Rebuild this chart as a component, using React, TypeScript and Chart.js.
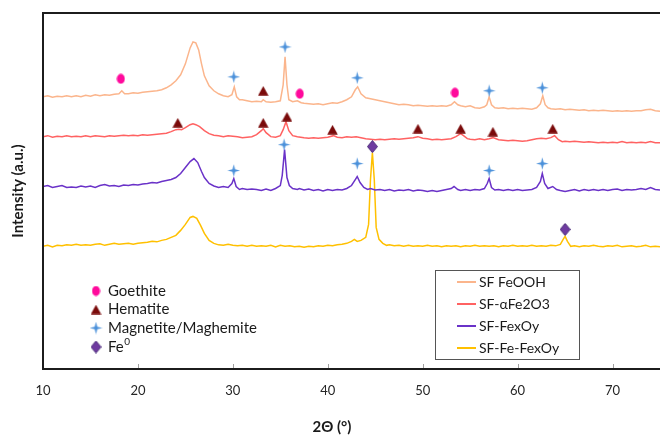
import React, { useEffect, useRef } from "react";
import { Chart, registerables } from "chart.js";
Chart.register(...registerables);

// ---------- data (2θ in degrees, intensity in a.u., stacked offsets as in the figure) ----------
const feoohTheta = [10,10.5,11,11.5,12,12.5,13,13.5,14,14.5,15,15.5,16,16.5,17,17.5,18,18.3,18.6,19,19.5,20,20.5,21,21.5,22,22.5,23,23.5,24,24.5,25,25.5,25.8,26.1,26.4,26.7,27,27.5,28,28.5,29,29.5,29.9,30.15,30.4,30.7,31,31.5,32,32.5,33,33.2,33.5,34,34.5,35,35.3,35.5,35.7,35.9,36.3,36.8,37.2,37.5,38,38.5,39,39.5,40,40.5,41,41.5,42,42.5,42.9,43.15,43.5,44,44.5,45,45.5,46,46.5,47,47.5,48,48.5,49,49.5,50,50.5,51,51.5,52,52.5,53,53.35,53.7,54,54.5,55,55.5,56,56.5,56.75,57,57.25,57.6,58,58.5,59,59.5,60,60.5,61,61.5,62,62.4,62.65,62.9,63.2,63.5,64,64.5,65,65.5,66,66.5,67,67.5,68,68.5,69,69.5,70,70.5,71,71.5,72,72.5,73,73.5,74,74.5,75];
const feoohI = [273,274,272.5,273.5,273,274,273,274,273,274.5,273.5,275,274,275,274.5,275.5,276,279,276,276,277,276.5,277.5,278,278.5,279,280,282,285,289,295,306,322,328,327,320,306,294,284,279,276,274,273,275,283,273,270,270,269,268,268.5,268,270,268,267.5,268,269,285,313,285,270,268,269,267,266.5,266,265.5,266,265,266,267,266.5,268,270,273,280,283,276,272,271,270,269,268,267,266,265,265.5,265,264,264.5,264,263.5,264,263.5,264,263.5,265,268,265,264,263,264,262,261.5,263,265,273,265,262,261.5,262,261,261.5,261,261.5,261,260.5,262,266,274,265,262,261,260.5,261,260,260.5,260,259.5,260,259,259.5,259,259.5,259,258.5,259,258.5,259,258.5,259,259,260,260.5,259,258.5];

const hematiteSampleTheta = [10,10.5,11,11.5,12,12.5,13,13.5,14,14.5,15,15.5,16,16.5,17,17.5,18,18.5,19,19.5,20,20.5,21,21.5,22,22.5,23,23.5,24,24.3,24.6,25,25.5,25.8,26.1,26.5,27,27.5,28,28.5,29,29.5,30,30.5,31,31.5,32,32.5,33,33.2,33.5,34,34.5,35,35.3,35.6,35.9,36.3,36.8,37.5,38,38.5,39,39.5,40,40.6,41,41.5,42,42.5,43,43.5,44,44.5,45,45.5,46,46.5,47,47.5,48,48.5,49,49.5,50,50.5,51,51.5,52,52.5,53,53.5,54,54.3,54.7,55,55.5,56,56.5,57,57.4,58,58.5,59,59.5,60,60.5,61,61.5,62,62.5,63,63.5,63.9,64.3,64.7,65,65.5,66,66.5,67,67.5,68,68.5,69,69.5,70,70.5,71,71.5,72,72.5,73,73.5,74,74.5,75];
const hematiteSampleI = [233,234,232.5,233.5,233,234,233,233.5,233,234,233,234,233.5,233,234,233.5,234,234.5,234,234.5,234,235,234.5,235,235.5,236,236.5,238,240,240.5,240,242,245,246,245,243,239,236,234.5,234,233,234,233.5,233,232,232.5,233,235,239,241,237,233,232.5,234,240,248,239,234,233,232,231.5,232,231.5,232,232.5,234,232.5,232,233,232.5,233,232,231,230.5,230,230.5,230,230.5,231,230.5,231,231.5,232,233,231.5,231,230,230.5,230,230.5,231,233,236,234,231,230.5,230,231,230,231,232,230,229.5,229,229.5,229,228.5,229,230,231,231.5,231,232,234,230,228,228.5,228,228.5,228,227.5,228,227.5,227,227.5,227,227.5,227,228,227,227.5,227,227.5,227,228,227,227];

const fexoyTheta = [10,10.5,11,11.5,12,12.5,13,13.5,14,14.5,15,15.5,16,16.5,17,17.5,18,18.5,19,19.5,20,20.5,21,21.5,22,22.5,23,23.5,24,24.5,25,25.5,25.9,26.3,26.7,27,27.5,28,28.5,29,29.5,29.9,30.1,30.35,30.7,31,31.5,32,32.5,33,33.5,34,34.5,35,35.2,35.45,35.7,35.95,36.3,36.8,37,37.5,38,38.5,39,39.5,40,40.5,41,41.5,42,42.5,42.9,43.1,43.4,43.8,44.2,44.5,45,45.5,46,46.5,47,47.5,48,48.5,49,49.5,50,50.5,51,51.5,52,52.5,53,53.3,53.7,54,54.5,55,55.5,56,56.5,56.8,57,57.25,57.6,58,58.5,59,59.5,60,60.5,61,61.5,62,62.4,62.6,62.85,63.2,63.7,64.1,64.5,65,65.5,66,66.5,67,67.5,68,68.5,69,69.5,70,70.5,71,71.5,72,72.5,73,73.5,74,74.5,75];
const fexoyI = [183,184,182,183,184,182,182.5,182,183.5,182.5,183.5,182,184,185,183.5,184,183,184.5,184,185,184.5,185.5,186,187,186.5,188,189,190,192,196,202,208,211,207,198,192,186,183.5,182,183,182,186,191,183,180,181,180,180.5,180,179,180.5,179,181,184,194,220,192,184,181,180,181,179.5,180.5,179,180,178.5,180,179,180,179.5,181,184,190,193,187,182,180,181,179.5,180,179,180,178.5,179.5,179,180,178.5,179.5,179,178,179,178,179,180,181,183,180,179,180,179,180,179.5,181,186,191,182,179.5,180,179,180,179,180,179,179.5,180,182,188,196,186,181,183,180,179,178,179,180,178.5,180,179,180,179,180,179,180,180.5,179,180,179.5,180,181,180,182,180,179.5];

const feFexoyTheta = [10,10.5,11,11.5,12,12.5,13,13.5,14,14.5,15,15.5,16,16.5,17,17.5,18,18.5,19,19.5,20,20.5,21,21.5,22,22.5,23,23.5,24,24.5,25,25.5,25.8,26.2,26.6,27,27.5,28,28.5,29,29.5,30,30.5,31,31.5,32,32.5,33,33.5,34,34.5,35,35.5,36,36.5,37,37.5,38,38.5,39,39.5,40,40.5,41,41.5,42,42.5,42.8,43.1,43.5,44,44.3,44.5,44.7,44.9,45.1,45.4,45.8,46.2,46.5,47,47.5,48,48.5,49,49.5,50,50.5,51,51.5,52,52.5,53,53.5,54,54.5,55,55.5,56,56.5,57,57.5,58,58.5,59,59.5,60,60.5,61,61.5,62,62.5,63,63.5,64,64.5,64.8,65,65.25,65.6,66,66.5,67,67.5,68,68.5,69,69.5,70,70.5,71,71.5,72,72.5,73,73.5,74,74.5,75];
const feFexoyI = [123,124,122.5,124,123.5,124.5,124,125,124,124.5,124,125,125.5,124,125,126,125,125.5,126,125,126,126.5,127,128,127.5,129,130,132,134,139,145,152,153,151,144,136,129,126,124.5,124,125,124,123.5,124,123,124,123,123.5,123,124,122.5,124,123,123.5,122.5,123,122,123,122.5,123.5,123,124,123.5,124.5,125,126,128,130,128,129,132,145,190,217,190,142,130,126,124,124.5,123.5,124,123,124,123,123.5,123,124,123,123.5,122.5,123.5,123,123.5,122.5,123.5,123,124,123,123.5,123,123.5,122.5,123.5,123,124,123,123.5,123,124,123,123.5,123,124,123.5,125,130,133,128,123,123.5,122.5,123.5,123,124,123,122.5,123.5,123,124,122.5,123,123.5,122.5,123,124,122.5,123,122.5];

const seriesLabels = ["SF FeOOH", "SF-\u03b1Fe2O3", "SF-FexOy", "SF-Fe-FexOy"];
const seriesColors = ["#FBB58C", "#FF6262", "#6A32C8", "#FFC000"];

const goethiteTheta = [18.2, 37.05, 53.4];
const goethiteI = [291, 276, 277];
const hematiteTheta = [24.2, 33.2, 33.2, 35.7, 40.5, 49.5, 54.0, 57.4, 63.7];
const hematiteI = [247, 279, 247, 253, 240, 241, 241, 238, 241];
const magnetiteTheta = [30.1, 35.5, 43.1, 57.0, 62.6, 30.1, 35.4, 43.1, 57.0, 62.6];
const magnetiteI = [293, 323, 292, 279, 282, 199, 225, 206, 199, 206];
const fe0Theta = [44.7, 65.0];
const fe0I = [223, 140];

const markerLabels = ["Goethite", "Hematite", "Magnetite/Maghemite", "Fe0"];
const xTicks = [10, 20, 30, 40, 50, 60, 70];

const FONT = "Lato, 'Open Sans', sans-serif";

function pts(xs: number[], ys: number[]) {
  return xs.map((x, i) => ({ x, y: ys[i] }));
}

function makeCanvas(w: number, h: number, draw: (g: CanvasRenderingContext2D) => void) {
  const c = document.createElement("canvas");
  c.width = w;
  c.height = h;
  const g = c.getContext("2d")!;
  draw(g);
  return c;
}

export default function App() {
  const ref = useRef<HTMLCanvasElement | null>(null);

  useEffect(() => {
    const oval = makeCanvas(9, 11, (g) => {
      g.fillStyle = "#FF0A9C";
      g.beginPath();
      g.ellipse(4.5, 5.5, 4, 5, 0, 0, Math.PI * 2);
      g.fill();
    });
    const tri = makeCanvas(11, 10, (g) => {
      g.fillStyle = "#7A0A0A";
      g.beginPath();
      g.moveTo(5.5, 0.3);
      g.lineTo(10.7, 9.7);
      g.lineTo(0.3, 9.7);
      g.closePath();
      g.fill();
    });
    const star = makeCanvas(13, 13, (g) => {
      g.translate(6.5, 6.5);
      g.fillStyle = "#4A90DA";
      const r = 6.3, s = 1.3;
      g.beginPath();
      g.moveTo(0, -r); g.lineTo(s, -s); g.lineTo(r, 0); g.lineTo(s, s);
      g.lineTo(0, r); g.lineTo(-s, s); g.lineTo(-r, 0); g.lineTo(-s, -s);
      g.closePath();
      g.fill();
    });
    const diamond = makeCanvas(11, 13, (g) => {
      g.fillStyle = "#6F3BA0";
      g.strokeStyle = "#4A2C78";
      g.lineWidth = 1;
      g.beginPath();
      g.moveTo(5.5, 0.5); g.lineTo(10.5, 6.5); g.lineTo(5.5, 12.5); g.lineTo(0.5, 6.5);
      g.closePath();
      g.fill();
      g.stroke();
    });
    const markerImgs = [oval, tri, star, diamond];

    const lineSets = [
      [feoohTheta, feoohI],
      [hematiteSampleTheta, hematiteSampleI],
      [fexoyTheta, fexoyI],
      [feFexoyTheta, feFexoyI],
    ].map(([xs, ys], i) => ({
      type: "line" as const,
      label: seriesLabels[i],
      data: pts(xs, ys),
      borderColor: seriesColors[i],
      backgroundColor: seriesColors[i],
      borderWidth: 1.5,
      pointRadius: 0,
      tension: 0,
      order: 2,
    }));
    const markerSets = [
      [goethiteTheta, goethiteI],
      [hematiteTheta, hematiteI],
      [magnetiteTheta, magnetiteI],
      [fe0Theta, fe0I],
    ].map(([xs, ys], i) => ({
      type: "line" as const,
      label: markerLabels[i],
      data: pts(xs, ys),
      showLine: false,
      pointStyle: markerImgs[i],
      pointRadius: 5,
      order: 0,
    }));

    const decor = {
      id: "decor",
      afterDraw(chart: any) {
        const ctx = chart.ctx as CanvasRenderingContext2D;
        const a = chart.chartArea;
        const xs = chart.scales.x;
        ctx.save();
        // frame
        ctx.strokeStyle = "#1c1c1c";
        ctx.lineWidth = 2;
        ctx.beginPath();
        ctx.moveTo(a.right, a.top);
        ctx.lineTo(a.left, a.top);
        ctx.lineTo(a.left, a.bottom);
        ctx.lineTo(a.right, a.bottom);
        ctx.stroke();
        // inner ticks
        ctx.strokeStyle = "#a0a0a0";
        ctx.lineWidth = 1;
        xTicks.forEach((v) => {
          if (v === xTicks[0]) return;
          const px = Math.round(xs.getPixelForValue(v)) + 0.5;
          ctx.beginPath();
          ctx.moveTo(px, a.bottom - 1);
          ctx.lineTo(px, a.bottom - 5);
          ctx.stroke();
        });
        // axis titles
        ctx.fillStyle = "#1a1a1a";
        ctx.font = "bold 15px " + FONT;
        ctx.textAlign = "center";
        ctx.textBaseline = "middle";
        ctx.fillText("2\u0398 (\u00b0)", 332, 427);
        ctx.save();
        ctx.translate(18, 191);
        ctx.rotate(-Math.PI / 2);
        ctx.fillText("Intensity (a.u.)", 0, 0);
        ctx.restore();

        // marker legend
        ctx.textAlign = "left";
        ctx.font = "15px " + FONT;
        const rowsM = [291, 309.5, 328, 347];
        markerLabels.forEach((lab, i) => {
          const img = markerImgs[i];
          ctx.drawImage(img, 96 - img.width / 2, rowsM[i] - img.height / 2);
          if (lab === "Fe0") {
            ctx.font = "15px " + FONT;
            ctx.fillText("Fe", 108, rowsM[i]);
            const w = ctx.measureText("Fe").width;
            ctx.font = "10px " + FONT;
            ctx.fillText("0", 108 + w + 0.5, rowsM[i] - 5);
            ctx.font = "15px " + FONT;
          } else {
            ctx.fillText(lab, 108, rowsM[i]);
          }
        });

        // series legend
        ctx.strokeStyle = "#555555";
        ctx.lineWidth = 1;
        ctx.strokeRect(435.5, 270.5, 144, 89);
        ctx.font = "14px " + FONT;
        const rowsS = [282, 304, 326, 348];
        seriesLabels.forEach((lab, i) => {
          ctx.strokeStyle = seriesColors[i];
          ctx.lineWidth = 2;
          ctx.beginPath();
          ctx.moveTo(457, rowsS[i]);
          ctx.lineTo(476, rowsS[i]);
          ctx.stroke();
          ctx.fillStyle = "#1a1a1a";
          ctx.fillText(lab, 479, rowsS[i]);
        });
        ctx.restore();
      },
    };

    const chart = new Chart(ref.current!, {
      type: "line",
      data: { datasets: [...markerSets, ...lineSets] as any },
      options: {
        animation: false,
        responsive: false,
        devicePixelRatio: 1,
        layout: { autoPadding: false, padding: { left: 43, top: 13, right: 0, bottom: 0 } },
        plugins: { legend: { display: false }, tooltip: { enabled: false } },
        scales: {
          x: {
            type: "linear",
            min: 10,
            max: 75,
            grid: { display: false, drawTicks: false },
            border: { display: false },
            ticks: {
              font: { family: FONT, size: 13 },
              color: "#262626",
              padding: 14,
              maxRotation: 0,
              autoSkip: false,
            },
            afterBuildTicks: (s: any) => {
              s.ticks = xTicks.map((v) => ({ value: v }));
            },
            afterFit: (s: any) => {
              s.height = 68;
              s.paddingLeft = 0;
              s.paddingRight = 0;
            },
          },
          y: { display: false, min: 0, max: 357 },
        },
      } as any,
      plugins: [decor],
    });
    return () => chart.destroy();
  }, []);

  return (
    <div style={{ position: "fixed", left: 0, top: 0, width: 660, height: 437, background: "#fff" }}>
      <canvas ref={ref} width={660} height={437} style={{ display: "block" }} />
    </div>
  );
}
